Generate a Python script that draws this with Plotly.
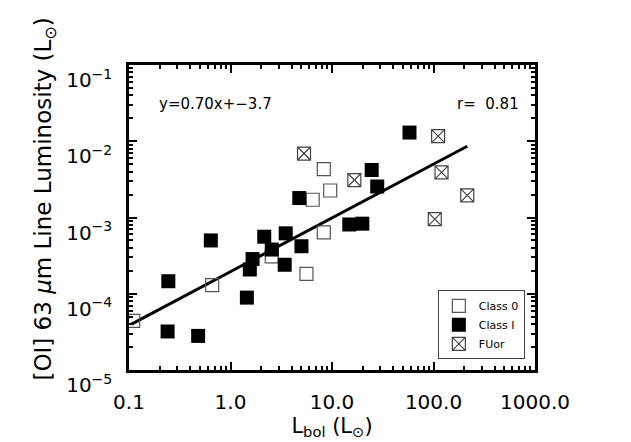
import plotly.graph_objects as go

# Class 0
c0_lbol = [0.11, 0.66, 2.55, 5.6, 8.3, 6.45, 9.6, 8.3]
c0_loi = [4.4e-5, 1.3e-4, 3.1e-4, 1.82e-4, 6.4e-4, 1.71e-3, 2.26e-3, 4.3e-3]
# Class I
c1_lbol = [0.244, 0.24, 0.48, 0.64, 1.45, 1.55, 1.65, 2.15, 2.55, 3.5, 3.42, 5.0,
           14.8, 19.9, 58, 24.6, 27.9, 4.76]
c1_loi = [1.46e-4, 3.2e-5, 2.8e-5, 5.0e-4, 8.9e-5, 2.08e-4, 2.85e-4, 5.6e-4, 3.8e-4,
          6.2e-4, 2.4e-4, 4.2e-4, 8.1e-4, 8.3e-4, 1.3e-2, 4.2e-3, 2.55e-3, 1.8e-3]
# FUor
fu_lbol = [103, 111, 5.3, 16.6, 120, 215]
fu_loi = [9.5e-4, 1.17e-2, 6.9e-3, 3.1e-3, 3.9e-3, 1.95e-3]
# fit line endpoints
fit_x = [0.106, 215]
fit_y = [4.0e-5, 8.6e-3]

xtick_vals = [0.1, 1, 10, 100, 1000]
xtick_text = ["0.1", "1.0", "10.0", "100.0", "1000.0"]
ytick_vals = [1e-5, 1e-4, 1e-3, 1e-2, 1e-1]
ytick_text = ["10<sup>−5</sup>", "10<sup>−4</sup>", "10<sup>−3</sup>", "10<sup>−2</sup>", "10<sup>−1</sup>"]

FONT = "DejaVu Sans"

fig = go.Figure()
fig.add_trace(go.Scatter(x=fit_x, y=fit_y, mode="lines", line=dict(color="black", width=3),
                         showlegend=False, hoverinfo="skip"))
fig.add_trace(go.Scatter(x=c0_lbol, y=c0_loi, mode="markers", name="Class 0",
                         marker=dict(symbol="square-open", size=13, color="#555555",
                                     line=dict(width=1.2, color="#555555"))))
fig.add_trace(go.Scatter(x=c1_lbol, y=c1_loi, mode="markers", name="Class I",
                         marker=dict(symbol="square", size=14, color="black",
                                     line=dict(width=0))))
fig.add_trace(go.Scatter(x=fu_lbol, y=fu_loi, mode="markers", name="FUor",
                         marker=dict(symbol="square-x-open", size=13, color="#444444",
                                     line=dict(width=1.2, color="#444444"))))

axis_common = dict(
    showline=True, linecolor="black", linewidth=2.5, mirror="allticks",
    ticks="inside", ticklen=8, tickwidth=2, tickcolor="black",
    showgrid=False, zeroline=False,
    tickfont=dict(family=FONT, size=20, color="black"),
)

fig.update_xaxes(type="log", range=[-1, 3], tickvals=xtick_vals, ticktext=xtick_text,
                 ticklabelstandoff=12,
                 title=dict(text="L<sub>bol</sub> (L<sub>⊙</sub>)", font=dict(family=FONT, size=21, color="black"),
                            standoff=2),
                 minor=dict(ticks="inside", ticklen=4, tickwidth=1.5, tickcolor="black", dtick="D1"),
                 **axis_common)
fig.update_yaxes(type="log", range=[-5, -1], tickvals=ytick_vals, ticktext=ytick_text,
                 ticklabelposition="outside bottom", ticklabelstandoff=10,
                 minor=dict(ticks="inside", ticklen=4, tickwidth=1.5, tickcolor="black", dtick="D1"),
                 **axis_common)

# y-axis title as rotated text
fig.add_annotation(xref="paper", yref="paper", x=-0.207, y=0.562, xanchor="center", yanchor="middle",
                   textangle=-90, showarrow=False,
                   text="[OI] 63 <i>μ</i>m Line Luminosity (L<sub>⊙</sub>)",
                   font=dict(family=FONT, size=23, color="black"))

fig.add_annotation(xref="paper", yref="paper", x=0.068, y=0.873, xanchor="left", yanchor="middle",
                   text="y=0.70x+−3.7", showarrow=False, font=dict(family=FONT, size=15, color="black"))
fig.add_annotation(xref="paper", yref="paper", x=0.965, y=0.873, xanchor="right", yanchor="middle",
                   text="r=  0.81", showarrow=False, font=dict(family=FONT, size=15, color="black"))

fig.update_layout(
    width=631, height=442,
    margin=dict(l=129, r=96, t=65, b=69),
    plot_bgcolor="white", paper_bgcolor="white",
    font=dict(family=FONT, color="black"),
    legend=dict(x=0.975, y=0.035, xanchor="right", yanchor="bottom",
                bordercolor="#444444", borderwidth=1, bgcolor="white",
                font=dict(family=FONT, size=11, color="black"),
                itemwidth=30, tracegroupgap=0),
)

fig.write_html("out.html", config={"displayModeBar": False},
               post_script="document.body.style.margin='0';")
